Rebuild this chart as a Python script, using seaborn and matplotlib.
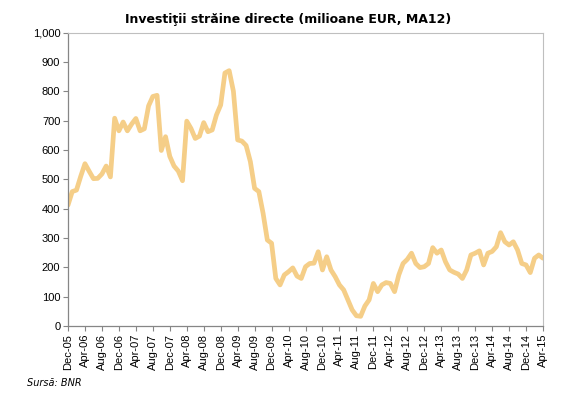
import matplotlib
matplotlib.use("Agg")
import matplotlib.pyplot as plt
import seaborn as sns
import pandas as pd
from matplotlib.ticker import FuncFormatter

# Monthly FDI (MA12), Dec-05 .. Apr-15
fdi_values = [
    412, 458, 463, 510, 553, 527, 502, 503, 518, 545, 508, 708, 665, 695, 665, 688,
    707, 665, 672, 750, 782, 786, 598, 645, 578, 545, 528, 495, 698, 673, 639, 647,
    693, 662, 668, 719, 753, 862, 870, 800, 634, 630, 615, 560, 469, 458, 384, 293,
    282, 162, 140, 174, 185, 198, 170, 162, 202, 213, 214, 253, 191, 236, 191, 168,
    140, 123, 89, 55, 35, 33, 68, 89, 145, 117, 140, 148, 145, 117, 174, 213,
    227, 248, 213, 199, 202, 213, 267, 248, 259, 219, 191, 183, 177, 162, 191, 242,
    248, 256, 208, 248, 254, 270, 318, 287, 276, 287, 259, 213, 208, 182, 231, 242,
    231,
]
tick_labels = [
    "Dec-05", "Apr-06", "Aug-06", "Dec-06", "Apr-07", "Aug-07", "Dec-07", "Apr-08",
    "Aug-08", "Dec-08", "Apr-09", "Aug-09", "Dec-09", "Apr-10", "Aug-10", "Dec-10",
    "Apr-11", "Aug-11", "Dec-11", "Apr-12", "Aug-12", "Dec-12", "Apr-13", "Aug-13",
    "Dec-13", "Apr-14", "Aug-14", "Dec-14", "Apr-15",
]
y_ticks = [0, 100, 200, 300, 400, 500, 600, 700, 800, 900, 1000]
title = "Investiţii străine directe (milioane EUR, MA12)"
source = "Sursă: BNR"

df = pd.DataFrame({"month": range(len(fdi_values)), "fdi": fdi_values})

sns.set_theme(style="white")
plt.rcParams["font.family"] = ["DejaVu Sans"]

fig = plt.figure(figsize=(5.77, 3.94), dpi=100)
ax = fig.add_axes([68 / 577, 1 - 326 / 394, (543 - 68) / 577, (326 - 32.5) / 394])

sns.lineplot(data=df, x="month", y="fdi", ax=ax, color="#F5CE88", linewidth=3.4,
             solid_joinstyle="round", solid_capstyle="round")

ax.set_xlim(0, len(fdi_values) - 1)
ax.set_ylim(0, 1000)
ax.set_yticks(y_ticks)
ax.yaxis.set_major_formatter(FuncFormatter(lambda v, p: f"{int(v):,}"))
ax.set_xticks(range(0, len(fdi_values), 4))
ax.set_xticklabels(tick_labels, rotation=90, fontfamily="Liberation Sans", fontsize=8)
for lab in ax.get_yticklabels():
    lab.set_fontfamily("Liberation Sans")
    lab.set_fontsize(8)
ax.set_xlabel("")
ax.set_ylabel("")

for side in ["top", "right"]:
    ax.spines[side].set_color("#BFBFBF")
    ax.spines[side].set_linewidth(0.8)
for side in ["left", "bottom"]:
    ax.spines[side].set_color("#868686")
    ax.spines[side].set_linewidth(0.9)

ax.tick_params(axis="both", which="major", direction="out", length=3.5, width=0.8,
               color="#868686", labelcolor="black", pad=2)
ax.tick_params(axis="y", left=True)
ax.tick_params(axis="x", bottom=True)

fig.text(0.5, 1 - 19 / 394, title, ha="center", va="center", fontsize=9,
         fontweight="bold", color="black")
fig.text(27 / 577, 1 - 383 / 394, source, ha="left", va="center", fontsize=7,
         fontstyle="italic", color="black")

fig.savefig("out.png", dpi=100)
